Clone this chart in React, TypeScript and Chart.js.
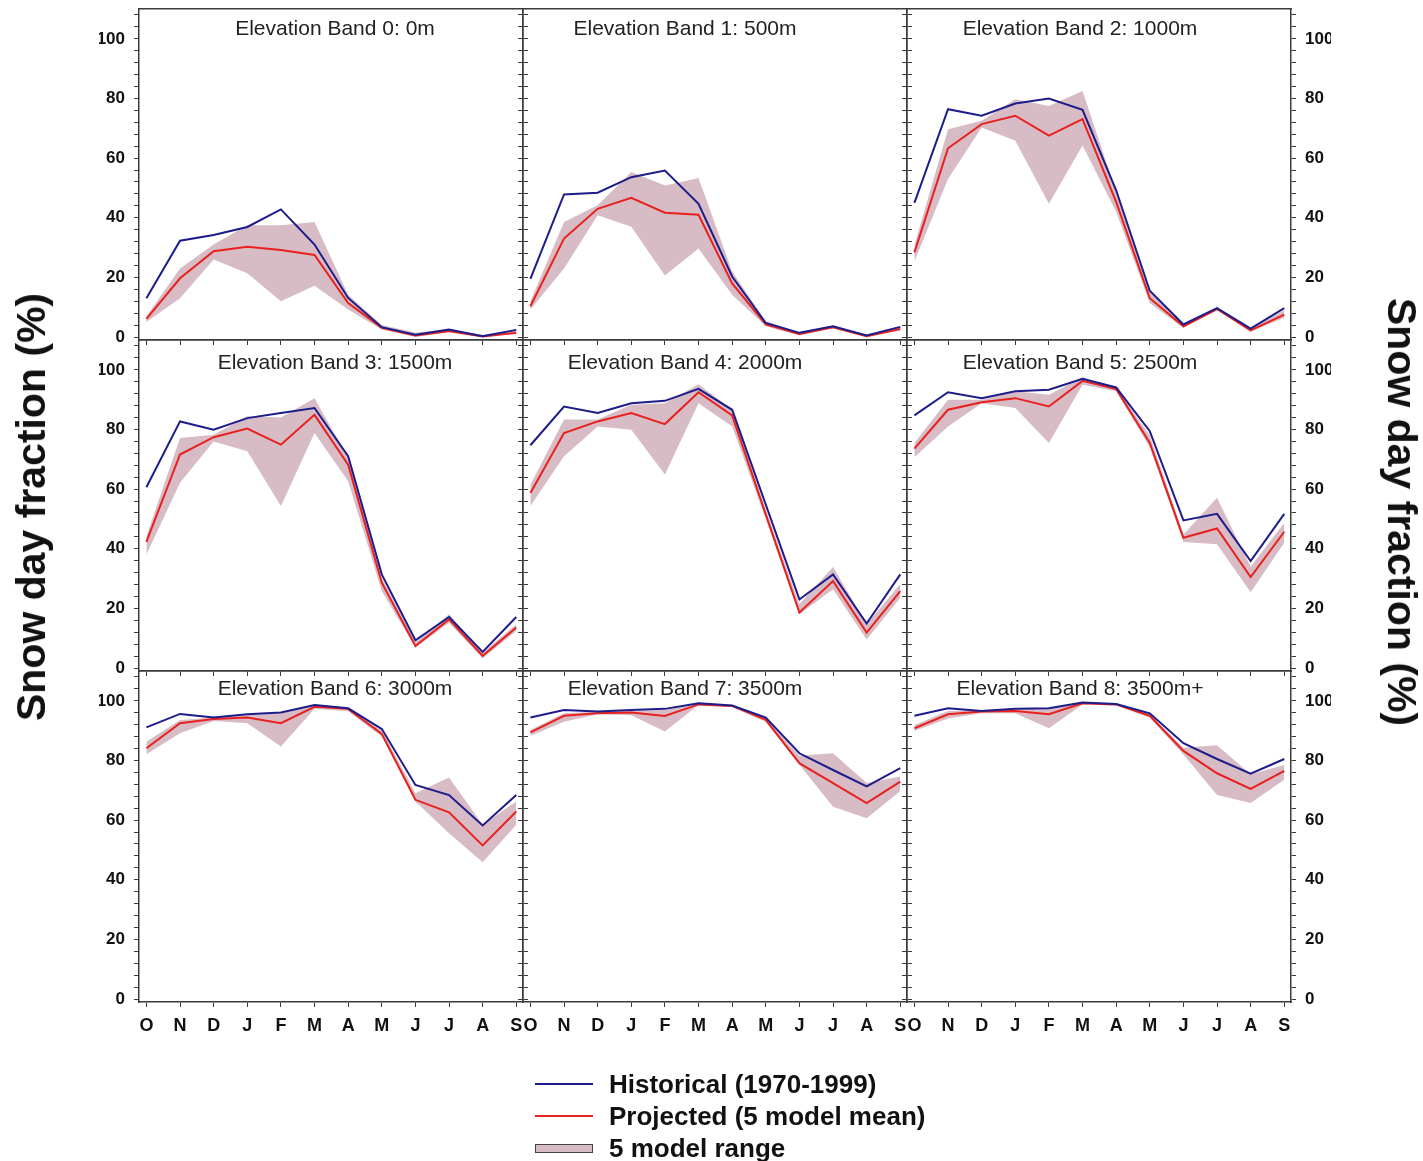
import React, { useEffect, useRef } from 'react';
import { Chart, registerables } from 'chart.js';

Chart.register(...registerables);

// ---------- data ----------
const months = ['O', 'N', 'D', 'J', 'F', 'M', 'A', 'M', 'J', 'J', 'A', 'S'];
const bandTitles = [
  'Elevation Band 0: 0m',
  'Elevation Band 1: 500m',
  'Elevation Band 2: 1000m',
  'Elevation Band 3: 1500m',
  'Elevation Band 4: 2000m',
  'Elevation Band 5: 2500m',
  'Elevation Band 6: 3000m',
  'Elevation Band 7: 3500m',
  'Elevation Band 8: 3500m+',
];
const yTickValues = [0, 4, 8, 12, 16, 20, 24, 28, 32, 36, 40, 44, 48, 52, 56, 60, 64, 68, 72, 76, 80, 84, 88, 92, 96, 100, 104, 108];
const yLabelValues = [0, 20, 40, 60, 80, 100];

const hist0 = [13, 32.3, 34.2, 36.9, 42.8, 31, 13.1, 3.3, 0.8, 2.5, 0.3, 2.4];
const proj0 = [6.1, 19.7, 28.8, 30.3, 29.2, 27.5, 11.4, 3.1, 0.5, 2.0, 0.2, 1.4];
const upper0 = [7, 23, 31, 37.5, 37.5, 38.6, 14.2, 4, 1.5, 2.5, 0.8, 2.5];
const lower0 = [5, 13, 26, 21.4, 12, 17.2, 9.2, 2.5, 0, 1.5, 0, 1];

const hist1 = [19.5, 47.8, 48.4, 53.6, 55.8, 44.7, 20.3, 4.7, 1.4, 3.6, 0.5, 3.4];
const proj1 = [10.3, 33, 43, 46.7, 41.7, 41, 18, 4.2, 1, 3.3, 0.3, 2.7];
const upper1 = [12, 38.6, 44.2, 55.3, 50.8, 53.3, 22, 5.3, 1.6, 3.8, 0.8, 3.6];
const lower1 = [9.2, 23, 40.8, 37, 20.6, 29.7, 14.2, 3.6, 0.5, 3.0, 0, 2.3];

const hist2 = [45, 76.4, 74.2, 78.3, 80, 76.2, 49.2, 15.5, 4.2, 9.7, 2.8, 9.7];
const proj2 = [28.4, 63.3, 71.4, 74.2, 67.5, 73.1, 45.3, 13, 3.6, 9.4, 2.2, 7.5];
const upper2 = [30.8, 69.7, 72.5, 79.7, 77.5, 82.5, 48.6, 15, 4.5, 10, 3, 9];
const lower2 = [25.3, 53, 70.3, 65.8, 44.7, 64.2, 42, 11.4, 3, 9, 1.8, 6.5];

const hist3 = [60.6, 82.7, 79.9, 83.8, 85.5, 87.2, 71, 31.4, 9.3, 17.1, 5.4, 17.1];
const proj3 = [42.3, 71.6, 77.4, 80.3, 74.9, 84.9, 68.2, 28.6, 7.4, 16.3, 4.1, 13.6];
const upper3 = [44.2, 77.1, 78.2, 84.4, 84, 90.5, 70.4, 30.3, 8.6, 18, 5.2, 14.7];
const lower3 = [38.1, 62.1, 76, 72.7, 54.3, 78.8, 62.6, 25.8, 6.9, 15.2, 3.3, 12.4];

const hist4 = [74.7, 87.7, 85.5, 88.8, 89.6, 93.6, 86.6, 54.8, 23, 31.4, 14.9, 31.4];
const proj4 = [58.7, 78.8, 82.7, 85.5, 81.8, 92.5, 84.7, 51.5, 18.6, 29.2, 11.9, 25.8];
const upper4 = [61.5, 83.3, 83.3, 88.3, 88.8, 95.2, 86.6, 53, 21.4, 33.9, 14.7, 28.2];
const lower4 = [54.3, 71, 81, 79.9, 64.9, 88.8, 81, 50, 18, 26.4, 9.6, 23.6];

const hist5 = [84.7, 92.5, 90.5, 92.8, 93.3, 97, 94.1, 79.4, 49.5, 51.7, 35.9, 51.7];
const proj5 = [73.6, 86.6, 89.1, 90.5, 87.7, 96.3, 93.6, 75.5, 43.7, 46.8, 30.5, 45.7];
const upper5 = [75.5, 90, 90, 92.8, 91.6, 97.5, 94, 78, 44.8, 57.1, 34, 48.7];
const lower5 = [70.7, 81, 88.8, 87.2, 75.5, 95, 92.8, 74, 42.3, 41.5, 25.4, 42];

const hist6 = [91.1, 95.6, 94.4, 95.5, 96.1, 98.6, 97.5, 90.6, 71.8, 68.4, 58.2, 68.4];
const proj6 = [84.1, 92.5, 93.9, 94.4, 92.5, 98, 97.3, 88.9, 66.8, 62.6, 51.5, 62.9];
const upper6 = [86.3, 93.6, 94.4, 95.2, 95.8, 98.8, 97.6, 90.3, 69, 74.3, 58.4, 66.2];
const lower6 = [82.1, 89.1, 93.2, 92.5, 84.7, 97.3, 96.5, 88, 66.2, 55.6, 45.9, 58.4];

const hist7 = [94.4, 96.9, 96.4, 96.9, 97.3, 99.2, 98.4, 94.4, 82.4, 76.8, 71.3, 77.4];
const proj7 = [89.4, 95, 95.8, 96.1, 94.9, 98.8, 98.3, 93.6, 79.1, 72.4, 65.7, 72.9];
const upper7 = [90.2, 95.8, 96.4, 96.6, 96.9, 99.4, 98.6, 94.1, 81.6, 82.4, 72.4, 74.6];
const lower7 = [88.3, 93, 95.5, 95.2, 89.7, 98.6, 97.9, 93, 78.6, 64.5, 60.6, 69.8];

const hist8 = [95, 97.5, 96.6, 97.3, 97.5, 99.4, 98.9, 95.8, 85.8, 80.5, 75.6, 80.5];
const proj8 = [90.8, 95.5, 96.4, 96.6, 95.5, 99.2, 98.8, 95, 83.2, 75.7, 70.5, 76.5];
const upper8 = [91.9, 96.6, 96.9, 97.3, 97.5, 99.5, 99, 95.4, 84.3, 85.1, 75.4, 78.5];
const lower8 = [89.9, 94.1, 95.8, 95.8, 90.8, 98.8, 98.4, 94.3, 82, 68.4, 65.7, 73.5];

const histAll = [hist0, hist1, hist2, hist3, hist4, hist5, hist6, hist7, hist8];
const projAll = [proj0, proj1, proj2, proj3, proj4, proj5, proj6, proj7, proj8];
const upperAll = [upper0, upper1, upper2, upper3, upper4, upper5, upper6, upper7, upper8];
const lowerAll = [lower0, lower1, lower2, lower3, lower4, lower5, lower6, lower7, lower8];

// ---------- style / layout ----------
const W = 1423;
const H = 1161;
const OFF = 40; // canvases start above the page so top tick labels never push the plot down
const CH = H + OFF;
const COL_X = [139, 523, 907];
const ROW_Y = [9, 340, 671];
const PW = 384;
const PH = 331;
const AX = 40;
const FONT = "'Liberation Sans', Arial, Helvetica, sans-serif";
const BLUE = '#1c1c8a';
const RED = '#e8201e';
const PINK = '#d7bcc6';
const FRAME = '#3a3a3a';
const TITLE_CX = [335, 685, 1080];
const TITLE_TOP = [16, 350, 676];

const pts = (arr: number[]) => arr.map((v, i) => ({ x: i, y: v }));

function makeConfig(i: number): any {
  const r = Math.floor(i / 3);
  const c = i % 3;
  const left = COL_X[c];
  const top = ROW_Y[r] + OFF;
  const yAxis = (pos: 'left' | 'right', showLabels: boolean) => ({
    type: 'linear',
    position: pos,
    min: -1,
    max: 110,
    afterBuildTicks: (s: any) => {
      s.ticks = yTickValues.map((v) => ({ value: v }));
    },
    afterFit: (s: any) => {
      s.width = AX;
    },
    ticks: {
      display: showLabels,
      autoSkip: false,
      padding: 9,
      color: '#111',
      font: { family: FONT, size: 17, weight: 'bold' },
      callback: (v: number) => (yLabelValues.includes(v) ? String(v) : ''),
    },
    grid: { display: true, drawOnChartArea: false, drawTicks: true, tickLength: 5, color: FRAME, lineWidth: 1 },
    border: { display: true, color: FRAME, width: 1.5 },
  });
  return {
    type: 'line',
    data: {
      datasets: [
        { label: 'Historical (1970-1999)', data: pts(histAll[i]), borderColor: BLUE, borderWidth: 2, pointRadius: 0, fill: false, tension: 0, xAxisID: 'x', yAxisID: 'y' },
        { label: 'Projected (5 model mean)', data: pts(projAll[i]), borderColor: RED, borderWidth: 2, pointRadius: 0, fill: false, tension: 0, xAxisID: 'x', yAxisID: 'y' },
        { label: '5 model range', data: pts(upperAll[i]), borderColor: 'rgba(0,0,0,0)', borderWidth: 0, backgroundColor: PINK, pointRadius: 0, fill: '+1', tension: 0, xAxisID: 'x', yAxisID: 'y' },
        { label: 'range low', data: pts(lowerAll[i]), borderColor: 'rgba(0,0,0,0)', borderWidth: 0, pointRadius: 0, fill: false, tension: 0, xAxisID: 'x', yAxisID: 'y' },
      ],
    },
    options: {
      responsive: false,
      maintainAspectRatio: false,
      animation: false,
      devicePixelRatio: 1,
      events: [],
      layout: {
        autoPadding: false,
        padding: { left: left - AX, top: top, right: W - (left + PW) - AX, bottom: CH - (top + PH) - AX },
      },
      plugins: {
        legend: { display: false },
        tooltip: { enabled: false },
        title: { display: false },
        filler: { drawTime: 'beforeDatasetsDraw' },
      },
      scales: {
        x: {
          type: 'linear',
          position: 'bottom',
          min: -0.22,
          max: 11.2,
          afterBuildTicks: (s: any) => {
            s.ticks = months.map((_, k) => ({ value: k }));
          },
          afterFit: (s: any) => {
            s.height = AX;
          },
          ticks: {
            display: r === 2,
            autoSkip: false,
            maxRotation: 0,
            minRotation: 0,
            padding: 8,
            color: '#111',
            font: { family: FONT, size: 18, weight: 'bold' },
            callback: (v: number) => months[v] ?? '',
          },
          grid: { display: true, drawOnChartArea: false, drawTicks: true, tickLength: 5, color: FRAME, lineWidth: 1 },
          border: { display: true, color: FRAME, width: 1.5 },
        },
        xTop: {
          type: 'linear',
          position: 'top',
          min: -0.22,
          max: 11.2,
          afterFit: (s: any) => {
            s.height = 0;
          },
          ticks: { display: false },
          grid: { display: true, drawOnChartArea: false, drawTicks: false },
          border: { display: true, color: FRAME, width: 1.5 },
        },
        y: yAxis('left', c === 0),
        yRight: yAxis('right', c === 2),
      },
    },
  };
}

const legendItems = [
  { text: 'Historical (1970-1999)', kind: 'line', color: BLUE, top: 1068 },
  { text: 'Projected (5 model mean)', kind: 'line', color: RED, top: 1100 },
  { text: '5 model range', kind: 'box', color: PINK, top: 1132 },
];

export default function App() {
  const refs = useRef<(HTMLCanvasElement | null)[]>([]);

  useEffect(() => {
    const charts = bandTitles.map((_, i) => new Chart(refs.current[i] as HTMLCanvasElement, makeConfig(i)));
    return () => charts.forEach((ch) => ch.destroy());
  }, []);

  return (
    <div style={{ position: 'absolute', left: 0, top: 0, width: W, height: H, background: '#fff', fontFamily: FONT, overflow: 'hidden' }}>
      {bandTitles.map((_, i) => (
        <canvas
          key={'c' + i}
          ref={(el) => {
            refs.current[i] = el;
          }}
          width={W}
          height={CH}
          style={{ position: 'absolute', left: 0, top: -OFF, width: W, height: CH }}
        />
      ))}
      {bandTitles.map((t, i) => (
        <div
          key={'t' + i}
          style={{
            position: 'absolute',
            left: TITLE_CX[i % 3],
            top: TITLE_TOP[Math.floor(i / 3)],
            transform: 'translateX(-50%)',
            whiteSpace: 'nowrap',
            fontSize: 21,
            lineHeight: '24px',
            color: '#222',
          }}
        >
          {t}
        </div>
      ))}
      <div
        style={{
          position: 'absolute',
          left: 31,
          top: 507,
          transform: 'translate(-50%, -50%) rotate(-90deg)',
          whiteSpace: 'nowrap',
          fontSize: 41,
          fontWeight: 'bold',
          lineHeight: '48px',
          color: '#111',
        }}
      >
        Snow day fraction (%)
      </div>
      <div
        style={{
          position: 'absolute',
          left: 1402,
          top: 512,
          transform: 'translate(-50%, -50%) rotate(90deg)',
          whiteSpace: 'nowrap',
          fontSize: 41,
          fontWeight: 'bold',
          lineHeight: '48px',
          color: '#111',
        }}
      >
        Snow day fraction (%)
      </div>
      {legendItems.map((it, k) => (
        <React.Fragment key={'l' + k}>
          {it.kind === 'line' ? (
            <div style={{ position: 'absolute', left: 535, top: it.top + 15, width: 58, height: 2, background: it.color }} />
          ) : (
            <div
              style={{
                position: 'absolute',
                left: 535,
                top: it.top + 12,
                width: 56,
                height: 7,
                background: it.color,
                border: '1.5px solid #444',
              }}
            />
          )}
          <div
            style={{
              position: 'absolute',
              left: 609,
              top: it.top,
              fontSize: 26,
              lineHeight: '32px',
              fontWeight: 'bold',
              color: '#111',
              whiteSpace: 'nowrap',
            }}
          >
            {it.text}
          </div>
        </React.Fragment>
      ))}
    </div>
  );
}
